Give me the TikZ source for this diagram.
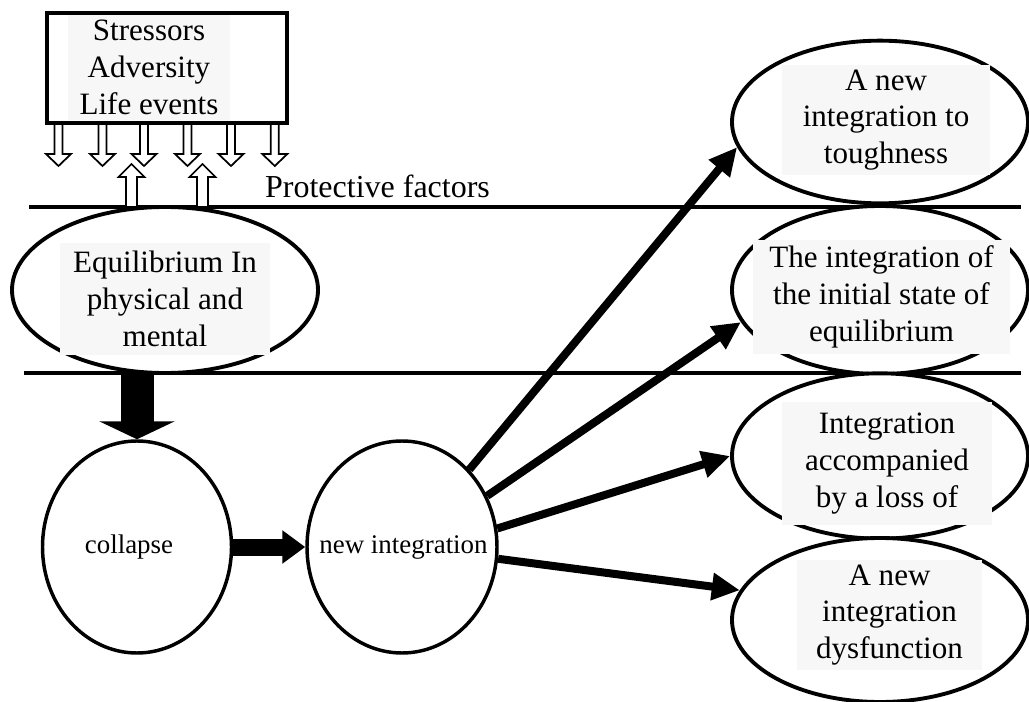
\documentclass[tikz,border=0pt]{standalone}
\usepackage{fontspec}
\setmainfont{Liberation Serif}
\usetikzlibrary{arrows.meta,shapes.geometric}
\tikzset{
  bubble/.style={draw=black, line width=2.9pt, ellipse, fill=white, inner sep=0pt},
  circ/.style={draw=black, line width=2.6pt, ellipse, fill=white, inner sep=0pt},
  txt/.style={fill=black!3, inner sep=0pt, align=center, font=\fontsize{23.3}{27.6}\selectfont},
  ctxt/.style={inner sep=0pt, font=\fontsize{20.2}{24}\selectfont},
  rule/.style={line width=2.9pt},
  hollow/.style={draw=black, fill=white, line width=1.3pt, line join=miter},
  thinarrow/.style={line width=6pt, -{Triangle[length=21pt, width=19.5pt]}},
}
\begin{document}
\begin{tikzpicture}[x=0.75pt, y=-0.75pt]
\useasboundingbox (0,0) rectangle (1029,702);

% horizontal rules
\coordinate (l1a) at (29,207);  \coordinate (l1b) at (1021,207);
\coordinate (l2a) at (24,373);  \coordinate (l2b) at (1021,373);
\draw[rule] (l1a) -- (l1b);
\draw[rule] (l2a) -- (l2b);

% hollow arrows down from the box
\foreach \cx in {58.5,102.5,144,187.5,231,274.8}{
  \draw[hollow] (\cx-4,121) -- (\cx-4,154) -- (\cx-12.5,154) -- (\cx,166)
     -- (\cx+12.5,154) -- (\cx+4,154) -- (\cx+4,121);
}
% hollow arrows up (protective factors)
\foreach \cx in {131.5,202.5}{
  \draw[hollow] (\cx-5.5,206) -- (\cx-5.5,177) -- (\cx-13,177) -- (\cx,164)
     -- (\cx+13,177) -- (\cx+5.5,177) -- (\cx+5.5,206);
}

% stressor box
\node[draw=black, line width=3pt, fill=white, minimum width=180pt, minimum height=82.5pt, inner sep=0pt] (box) at (167,68) {};
\node[txt, minimum width=121.5pt, minimum height=78.75pt] (boxt) at (149,67.5) {Stressors\\Adversity\\Life events};

\node[anchor=base, inner sep=0pt, font=\fontsize{24}{28}\selectfont] (prot) at (377.5,198) {Protective factors};

% equilibrium
\node[bubble, minimum width=229.5pt, minimum height=124.5pt] (eq) at (165,290) {};
\node[txt, minimum width=157.5pt, minimum height=84pt] (eqt) at (165,299) {Equilibrium In\\physical and\\mental};

% circles
\node[circ, minimum width=141.75pt, minimum height=159pt] (col) at (137,547) {};
\node[ctxt] (colt) at (129,547) {collapse};
\node[circ, minimum width=142.5pt, minimum height=159pt] (ni) at (402,547) {};
\node[ctxt] (nit) at (403.5,547) {new integration};

% right ellipses
\node[bubble, minimum width=222pt, minimum height=122pt] (e1) at (880,122) {};
\node[txt, minimum width=156pt, minimum height=82.5pt] (e1t) at (886,120) {A new\\integration to\\toughness};
\node[bubble, minimum width=222pt, minimum height=126pt] (e2) at (880,290) {};
\node[txt, minimum width=193pt, minimum height=86pt] (e2t) at (881.5,297) {The integration of\\the initial state of\\equilibrium};
\node[bubble, minimum width=222pt, minimum height=124pt] (e3) at (880,456) {};
\node[txt, minimum width=157.5pt, minimum height=92pt] (e3t) at (887,463.5) {Integration\\accompanied\\by a loss of};
\node[bubble, minimum width=222pt, minimum height=123pt] (e4) at (880,620) {};
\node[txt, minimum width=139pt, minimum height=82.5pt] (e4t) at (889.5,615) {A new\\integration\\dysfunction};

% big arrows
\draw[line width=24.75pt, -{Triangle[length=13.5pt, width=56.25pt]}] (col.north |- eq.south) -- (col.north);
\draw[line width=12.75pt, -{Triangle[length=17.25pt, width=24pt]}] (col.east) -- (ni.west);

% arrows to outcomes
\draw[thinarrow] (ni.49.8) -- (e1.190.2);
\draw[thinarrow] (ni.31.7) -- (e2.193.1);
\draw[thinarrow] (ni.11.9) -- (e3.180);
\draw[thinarrow] (ni.-7.8) -- (e4.168.9);
\end{tikzpicture}
\end{document}
